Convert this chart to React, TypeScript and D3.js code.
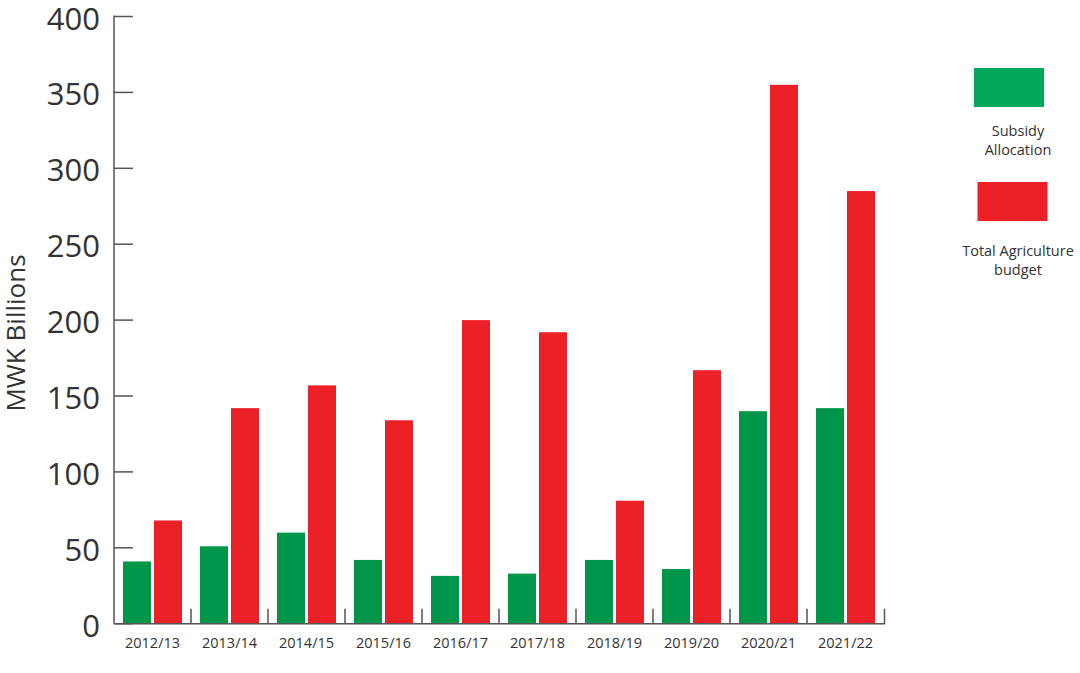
import React from "react";
import * as d3 from "d3";

const categories = ["2012/13","2013/14","2014/15","2015/16","2016/17","2017/18","2018/19","2019/20","2020/21","2021/22"];
const subsidy = [41, 51, 60, 42, 31.5, 33, 42, 36, 140, 142];
const totalBudget = [68, 142, 157, 134, 200, 192, 81, 167, 355, 285];
const yTicks = [0, 50, 100, 150, 200, 250, 300, 350, 400];
const seriesNames = ["Subsidy Allocation", "Total Agriculture budget"];
const legendLines = [["Subsidy", "Allocation"], ["Total Agriculture", "budget"]];

const W = 1080, H = 673;
const FONT = "'Open Sans', 'Noto Sans', sans-serif";
const TEXT = "#333333";
const AXIS = "#555555";
const barColors = ["#00964a", "#ec2027"];
const legendColors = ["#00a859", "#ec2027"];

export default function App() {
  const x0 = d3.scaleBand<string>().domain(categories).range([114, 884]).padding(0);
  const x1 = d3.scaleBand<string>().domain(seriesNames).range([9, 68]).paddingInner(0.097).paddingOuter(0);
  const y = d3.scaleLinear().domain([0, 400]).range([623.7, 16.5]);
  const series = [subsidy, totalBudget];
  const base = y(0);

  return (
    <svg width={W} height={H} style={{ position: "absolute", left: 0, top: 0, background: "#fff" }}>
      {/* bars */}
      {categories.map((c, i) => (
        <g key={c} transform={`translate(${x0(c)},0)`}>
          {seriesNames.map((s, k) => (
            <rect key={s} x={x1(s)} y={y(series[k][i])} width={x1.bandwidth()} height={base - y(series[k][i])}
              fill={barColors[k]} />
          ))}
        </g>
      ))}
      {/* y axis */}
      <line x1={114} x2={114} y1={y(400) - 1} y2={base} stroke={AXIS} strokeWidth={1.5} />
      {yTicks.map((t) => (
        <g key={t}>
          <line x1={114} x2={133} y1={y(t)} y2={y(t)} stroke={AXIS} strokeWidth={1.5} />
          <text x={100} y={y(t) + 13} textAnchor="end" fontFamily={FONT} fontSize={31} fill={TEXT}>{t}</text>
        </g>
      ))}
      {/* x axis */}
      <line x1={114} x2={885} y1={base} y2={base} stroke={AXIS} strokeWidth={1.5} />
      {categories.map((c, i) => (
        <g key={c}>
          {i > 0 && <line x1={x0(c)} x2={x0(c)} y1={base} y2={base - 15} stroke={AXIS} strokeWidth={1.5} />}
          <text x={(x0(c) as number) + 38.5} y={648} textAnchor="middle" fontFamily={FONT} fontSize={14.5} fill={TEXT}>{c}</text>
        </g>
      ))}
      <line x1={884.5} x2={884.5} y1={base} y2={base - 15} stroke={AXIS} strokeWidth={1.5} />
      {/* y title */}
      <text transform={`translate(25,333) rotate(-90)`} textAnchor="middle" fontFamily={FONT} fontSize={26} fill={TEXT}>MWK Billions</text>
      {/* legend */}
      {seriesNames.map((s, k) => (
        <g key={s} transform={`translate(${k === 0 ? 974 : 977.5},${k === 0 ? 68 : 182})`}>
          <rect x={0} y={0} width={70} height={39} fill={legendColors[k]} />
          {legendLines[k].map((ln, j) => (
            <text key={j} x={k === 0 ? 44 : 40.5} y={(k === 0 ? 68 : 74) + j * 19} textAnchor="middle" fontFamily={FONT} fontSize={14.5} fill={TEXT}>{ln}</text>
          ))}
        </g>
      ))}
    </svg>
  );
}
